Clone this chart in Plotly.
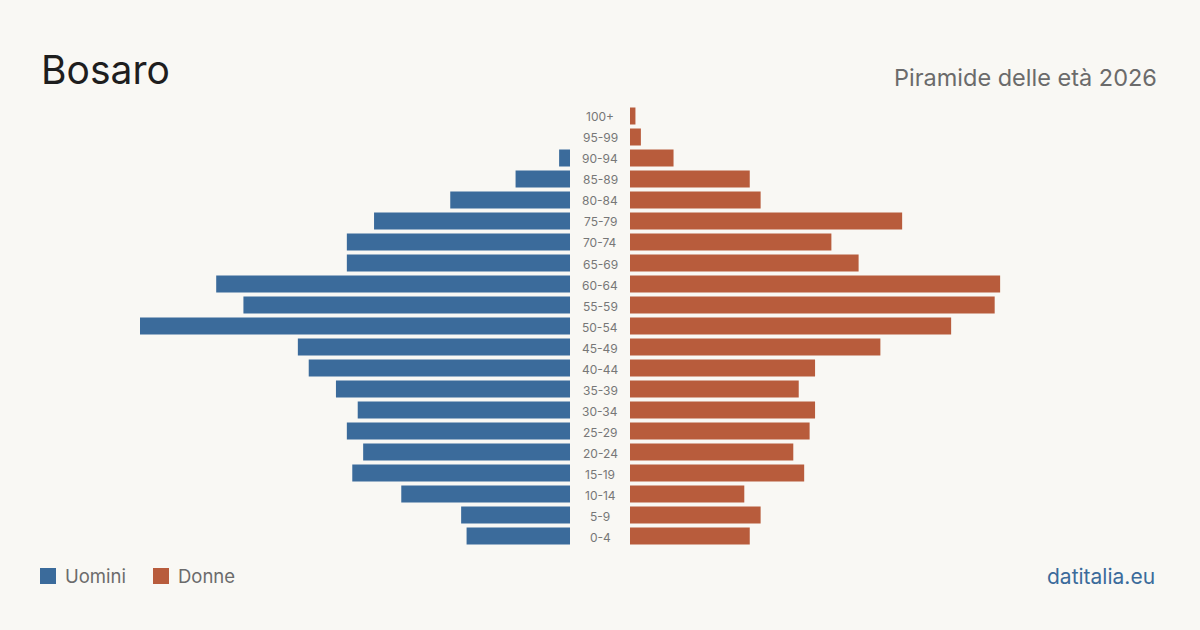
import plotly.graph_objects as go

ages = ["100+", "95-99", "90-94", "85-89", "80-84", "75-79", "70-74", "65-69", "60-64",
        "55-59", "50-54", "45-49", "40-44", "35-39", "30-34", "25-29", "20-24", "15-19",
        "10-14", "5-9", "0-4"]
men = [0, 0, 2, 10, 22, 36, 41, 41, 65, 60, 79, 50, 48, 43, 39, 41, 38, 40, 31, 20, 19]
women = [1, 2, 8, 22, 24, 50, 37, 42, 68, 67, 59, 46, 34, 31, 34, 33, 30, 32, 21, 24, 22]

BLUE = "#3b6b9b"
ORANGE = "#b85c3c"
BG = "#f9f8f4"
FONT = "Inter, Roboto, sans-serif"

W, H = 1200, 630
xmax = 79

fig = go.Figure()
fig.add_trace(go.Bar(y=ages, x=men, orientation="h", marker=dict(color=BLUE, line_width=0),
                     xaxis="x", yaxis="y", showlegend=False, hoverinfo="x+y"))
fig.add_trace(go.Bar(y=ages, x=women, orientation="h", marker=dict(color=ORANGE, line_width=0),
                     xaxis="x2", yaxis="y", showlegend=False, hoverinfo="x+y"))

for a in ages:
    fig.add_annotation(x=600 / W, xref="paper", y=a, yref="y", yshift=-1, text=a, showarrow=False,
                       font=dict(family=FONT, size=12, color="#777"), xanchor="center", yanchor="middle")

ytop, ybot = 105.5, 546.5
fig.update_layout(
    width=W, height=H,
    paper_bgcolor=BG, plot_bgcolor=BG,
    margin=dict(l=0, r=0, t=0, b=0),
    bargap=0.19,
    xaxis=dict(domain=[140 / W, 570 / W], range=[xmax, 0], visible=False, fixedrange=True),
    xaxis2=dict(domain=[630 / W, 1060 / W], range=[0, xmax], visible=False, fixedrange=True),
    yaxis=dict(domain=[1 - ybot / H, 1 - ytop / H], categoryorder="array",
               categoryarray=ages[::-1], visible=False, fixedrange=True),
    showlegend=False,
)

fig.add_annotation(x=39 / W, y=1 - 69 / H, xref="paper", yref="paper", text="Bosaro", showarrow=False,
                   xanchor="left", yanchor="middle", font=dict(family=FONT, size=39, color="#1e1e1e"))
fig.add_annotation(x=1159 / W, y=1 - 77 / H, xref="paper", yref="paper", text="Piramide delle età 2026",
                   showarrow=False, xanchor="right", yanchor="middle",
                   font=dict(family=FONT, size=23.5, color="#6b6b6b"))

# legend
fig.add_shape(type="rect", xref="paper", yref="paper", x0=40 / W, x1=56 / W, y0=1 - 584 / H, y1=1 - 568 / H,
              fillcolor=BLUE, line_width=0)
fig.add_annotation(x=63 / W, y=1 - 576 / H, xref="paper", yref="paper", text="Uomini", showarrow=False,
                   xanchor="left", yanchor="middle", font=dict(family=FONT, size=18.5, color="#6b6b6b"))
fig.add_shape(type="rect", xref="paper", yref="paper", x0=153 / W, x1=169 / W, y0=1 - 584 / H, y1=1 - 568 / H,
              fillcolor=ORANGE, line_width=0)
fig.add_annotation(x=176 / W, y=1 - 576 / H, xref="paper", yref="paper", text="Donne", showarrow=False,
                   xanchor="left", yanchor="middle", font=dict(family=FONT, size=18.5, color="#6b6b6b"))

fig.add_annotation(x=1157 / W, y=1 - 576 / H, xref="paper", yref="paper", text="datitalia.eu", showarrow=False,
                   xanchor="right", yanchor="middle", font=dict(family=FONT, size=21, color="#3b6b9b"))

fig.write_html("out.html")
